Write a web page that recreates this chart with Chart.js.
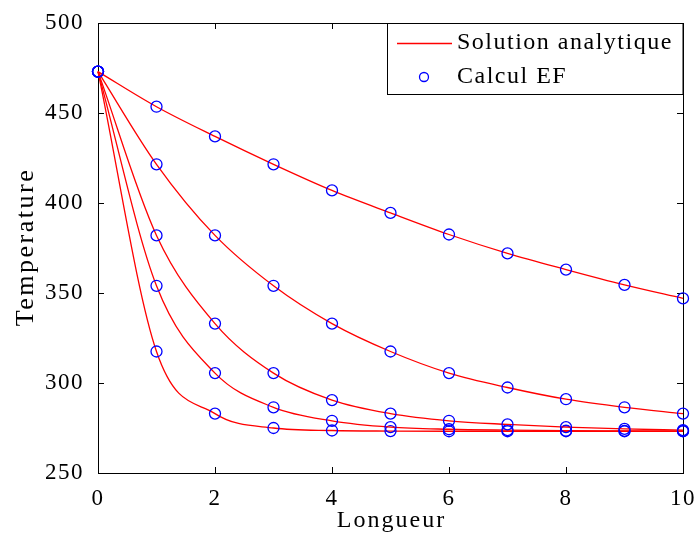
<!DOCTYPE html>
<html>
<head>
<meta charset="utf-8">
<script src="https://cdn.jsdelivr.net/npm/chart.js@4.4.1/dist/chart.umd.min.js"></script>
<style>
    html, body { margin: 0; padding: 0; background: #fff; }
    #wrap { width: 700px; height: 542px; }
</style>
</head>
<body>
<div id="wrap"><canvas id="chart-temp"></canvas></div>
<script>
// abscisses (Longueur)
const longueur = [0, 1, 2, 3, 4, 5, 6, 7, 8, 9, 10];

const tempCourbe1 = [473, 453.5, 437, 421.5, 407, 394.5, 382.5, 372, 363, 354.5, 347];
const tempCourbe2 = [473, 421.5, 382, 354, 333, 317.5, 305.5, 297.5, 291, 286.5, 283];
const tempCourbe3 = [473, 382, 333, 305.5, 290.5, 283, 279, 277, 275.5, 274.5, 273.8];
const tempCourbe4 = [473, 354, 305.5, 286.5, 279, 275.5, 274.3, 273.8, 273.5, 273.4, 273.3];
const tempCourbe5 = [473, 317.5, 283, 275, 273.6, 273.3, 273.2, 273.2, 273.2, 273.2, 273.2];

const courbes = [tempCourbe1, tempCourbe2, tempCourbe3, tempCourbe4, tempCourbe5];

const xTicks = [0, 2, 4, 6, 8, 10];
const yTicks = [250, 300, 350, 400, 450, 500];

const legendLabels = ['Solution analytique', 'Calcul EF'];
const xTitle = 'Longueur';
const yTitle = 'Temperature';

const FONT = "'Liberation Serif', 'Times New Roman', serif";

// espacement des lettres façon MATLAB
const spacingPlugin = {
    id: 'spacing',
    beforeUpdate(chart) { chart.ctx.letterSpacing = '1.5px'; },
    beforeDraw(chart) { chart.ctx.letterSpacing = '1.5px'; }
};

// cadre + graduations vers l'intérieur sur les 4 côtés, titres, légende
const boxPlugin = {
    id: 'box',
    beforeDatasetsDraw(chart) {
        const { ctx, chartArea: a, scales } = chart;
        ctx.save();
        ctx.strokeStyle = '#000';
        ctx.lineWidth = 1;
        ctx.strokeRect(a.left + 0.5, a.top + 0.5, a.right - a.left, a.bottom - a.top);
        const len = 6;
        ctx.beginPath();
        xTicks.forEach(v => {
            const x = Math.round(scales.x.getPixelForValue(v)) + 0.5;
            ctx.moveTo(x, a.bottom); ctx.lineTo(x, a.bottom - len);
            ctx.moveTo(x, a.top); ctx.lineTo(x, a.top + len);
        });
        yTicks.forEach(v => {
            const y = Math.round(scales.y.getPixelForValue(v)) + 0.5;
            ctx.moveTo(a.left, y); ctx.lineTo(a.left + len, y);
            ctx.moveTo(a.right, y); ctx.lineTo(a.right - len, y);
        });
        ctx.stroke();
        ctx.restore();
    },
    afterDraw(chart) {
        const { ctx, chartArea: a } = chart;

        // titres des axes
        ctx.save();
        ctx.fillStyle = '#000';
        ctx.textAlign = 'center';
        ctx.textBaseline = 'middle';
        ctx.font = '24px ' + FONT;
        ctx.letterSpacing = '2px';
        ctx.fillText(xTitle, (a.left + a.right) / 2 + 1, 521);
        ctx.translate(26, (a.top + a.bottom) / 2);
        ctx.rotate(-Math.PI / 2);
        ctx.font = '26px ' + FONT;
        ctx.letterSpacing = '2.5px';
        ctx.fillText(yTitle, 1, 0);
        ctx.restore();

        // légende
        const left = 387, top = a.top, right = a.right, bottom = 94;
        ctx.save();
        ctx.fillStyle = '#fff';
        ctx.fillRect(left, top, right - left, bottom - top);
        ctx.strokeStyle = '#000';
        ctx.lineWidth = 1;
        ctx.strokeRect(left + 0.5, top + 0.5, right - left - 0.5, bottom - top);

        ctx.strokeStyle = '#ff0000';
        ctx.lineWidth = 1.3;
        ctx.beginPath();
        ctx.moveTo(397, 43.5); ctx.lineTo(452, 43.5);
        ctx.stroke();

        ctx.strokeStyle = '#0000ff';
        ctx.lineWidth = 1.3;
        ctx.beginPath();
        ctx.arc(424, 77, 4.5, 0, Math.PI * 2);
        ctx.stroke();

        ctx.fillStyle = '#000';
        ctx.font = '24px ' + FONT;
        ctx.letterSpacing = '1.5px';
        ctx.textBaseline = 'middle';
        ctx.fillText(legendLabels[0], 457, 43);
        ctx.fillText(legendLabels[1], 457, 77);
        ctx.restore();
    }
};

const datasets = courbes.map((vals, i) => ({
    label: 'Courbe ' + (i + 1),
    data: longueur.map((x, j) => ({ x: x, y: vals[j] })),
    borderColor: '#ff0000',
    borderWidth: 1.3,
    cubicInterpolationMode: 'monotone',
    pointRadius: 5.5,
    pointBorderColor: '#0000ff',
    pointBackgroundColor: 'rgba(0,0,0,0)',
    pointBorderWidth: 1.3,
    pointHoverRadius: 5.5,
    clip: false
}));

const ctx = document.getElementById('chart-temp').getContext('2d');
new Chart(ctx, {
    type: 'line',
    data: { datasets },
    options: {
        responsive: true,
        maintainAspectRatio: false,
        animation: false,
        layout: { padding: { top: 23, right: 16, left: 0, bottom: 0 } },
        plugins: {
            legend: { display: false },
            tooltip: { enabled: false }
        },
        scales: {
            x: {
                type: 'linear',
                min: 0,
                max: 10,
                afterFit: s => { s.height = 69; },
                afterBuildTicks: s => { s.ticks = xTicks.map(v => ({ value: v })); },
                grid: { display: false },
                border: { display: false },
                ticks: { color: '#000', padding: 4, maxRotation: 0, font: { family: FONT, size: 23 } }
            },
            y: {
                min: 250,
                max: 500,
                afterFit: s => { s.width = 98; },
                afterBuildTicks: s => { s.ticks = yTicks.map(v => ({ value: v })); },
                grid: { display: false },
                border: { display: false },
                ticks: { color: '#000', padding: 6, font: { family: FONT, size: 23 } }
            }
        }
    },
    plugins: [spacingPlugin, boxPlugin]
});
</script>
</body>
</html>
